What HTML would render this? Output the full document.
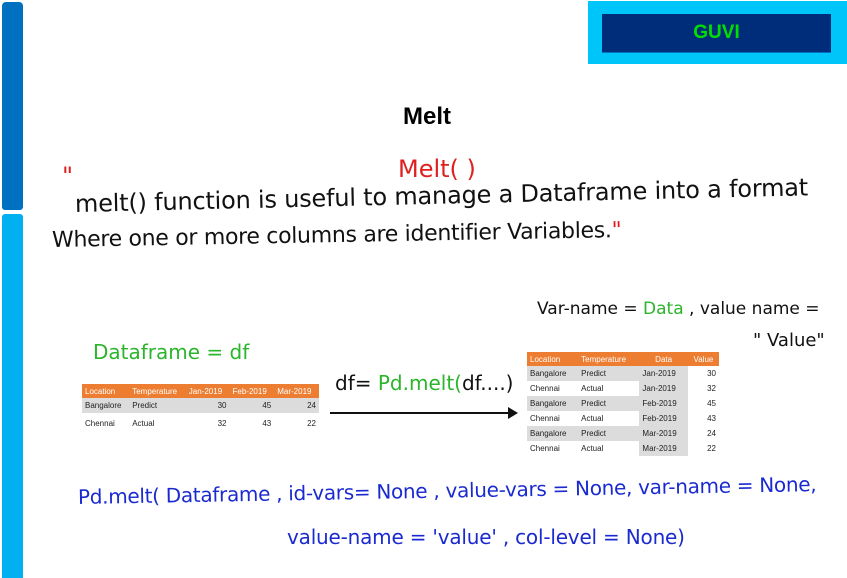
<!DOCTYPE html>
<html><head><style>
body{margin:0;width:847px;height:578px;background:#fff;position:relative;overflow:hidden;font-family:"Liberation Sans",sans-serif}
.a{position:absolute;white-space:nowrap}
.h{font-family:"DejaVu Sans","Liberation Sans",sans-serif}
table{border-collapse:collapse;font-family:"Liberation Sans",sans-serif;font-size:8px;color:#222}
td{padding:0 3px;height:15px}
th{background:#ed7d31;color:#fff;font-weight:normal;text-align:left;padding:0 3px;height:14px}
.g td{background:#dcdcdc}
.r{text-align:right}
</style></head><body>
<div class="a" style="left:2px;top:2px;width:21px;height:208px;background:#0070c0;border-radius:4px 4px 3px 3px"></div>
<div class="a" style="left:2px;top:214px;width:21px;height:364px;background:#00b0f0;border-radius:3px 3px 0 0"></div>
<div class="a" style="left:588px;top:1px;width:259px;height:63px;background:#00c5f8"></div>
<div class="a" style="left:602px;top:14px;width:229px;height:38px;background:#002d7a;border-bottom:1px solid #0070c0;color:#00e000;font-weight:bold;font-size:19px;text-align:center;line-height:38px">GUVI</div>
<div class="a" style="left:403px;top:103px;font-weight:bold;font-size:24px">Melt</div>
<div class="a h" style="left:62px;top:162px;color:#e02020;font-size:24px">"</div>
<div class="a h" style="left:398px;top:155px;color:#e02020;font-size:24px">Melt( )</div>
<div class="a h" style="left:75px;top:190px;font-size:24px;letter-spacing:-0.2px;color:#111;transform:rotate(-1.3deg);transform-origin:left">melt() function is useful to manage a Dataframe into a format</div>
<div class="a h" style="left:52px;top:228px;font-size:22px;letter-spacing:-0.3px;color:#111;transform:rotate(-1deg);transform-origin:left">Where one or more columns are identifier Variables.<span style="color:#e02020">"</span></div>
<div class="a h" style="left:537px;top:299px;font-size:17px;color:#111">Var-name = <span style="color:#2bb52b">Data</span> , value name =</div>
<div class="a h" style="left:753px;top:330px;font-size:18px;color:#111">" Value"</div>
<div class="a h" style="left:93px;top:340px;font-size:20px;color:#2bb52b">Dataframe = df</div>
<div class="a" style="left:82px;top:384px">
<table style="width:237px"><tr><th>Location</th><th>Temperature</th><th>Jan-2019</th><th>Feb-2019</th><th>Mar-2019</th></tr>
<tr class="g"><td>Bangalore</td><td>Predict</td><td class="r">30</td><td class="r">45</td><td class="r">24</td></tr>
<tr><td style="height:20px">Chennai</td><td>Actual</td><td class="r">32</td><td class="r">43</td><td class="r">22</td></tr></table></div>
<div class="a h" style="left:335px;top:371px;font-size:20px;color:#111">df= <span style="color:#2bb52b">Pd.melt(</span>df....)</div>
<div class="a" style="left:330px;top:412px;width:180px;height:2px;background:#111"></div>
<div class="a" style="left:508px;top:407px;width:0;height:0;border-left:10px solid #111;border-top:6px solid transparent;border-bottom:6px solid transparent"></div>
<div class="a" style="left:527px;top:352px">
<table style="width:192px"><tr><th>Location</th><th>Temperature</th><th style="text-align:center">Data</th><th style="text-align:center">Value</th></tr>
<tr class="g"><td>Bangalore</td><td>Predict</td><td>Jan-2019</td><td class="r" style="background:#fff">30</td></tr>
<tr><td>Chennai</td><td>Actual</td><td style="background:#dcdcdc">Jan-2019</td><td class="r">32</td></tr>
<tr class="g"><td>Bangalore</td><td>Predict</td><td>Feb-2019</td><td class="r" style="background:#fff">45</td></tr>
<tr><td>Chennai</td><td>Actual</td><td style="background:#dcdcdc">Feb-2019</td><td class="r">43</td></tr>
<tr class="g"><td>Bangalore</td><td>Predict</td><td>Mar-2019</td><td class="r" style="background:#fff">24</td></tr>
<tr><td>Chennai</td><td>Actual</td><td style="background:#dcdcdc">Mar-2019</td><td class="r">22</td></tr></table></div>
<div class="a h" style="left:78px;top:485px;font-size:20px;letter-spacing:-0.3px;color:#1a2ad0;transform:rotate(-1deg);transform-origin:left">Pd.melt( Dataframe , id-vars= None , value-vars = None, var-name = None,</div>
<div class="a h" style="left:287px;top:525px;font-size:20px;letter-spacing:-0.2px;color:#1a2ad0">value-name = 'value' , col-level = None)</div>
</body></html>
